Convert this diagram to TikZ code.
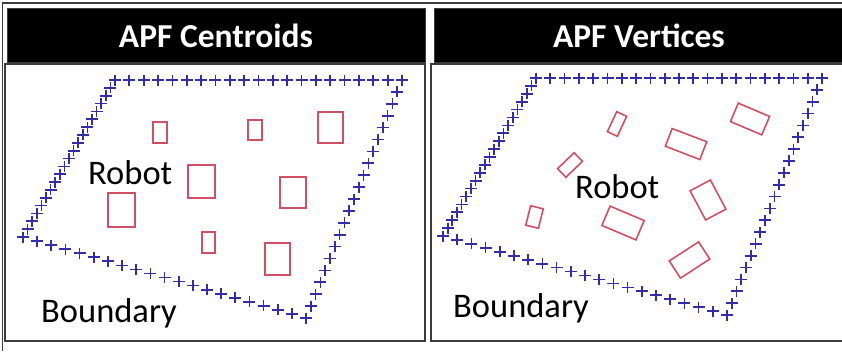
\documentclass[tikz,border=0pt]{standalone}
\usepackage{fontspec}
\setmainfont{Carlito}
\usetikzlibrary{calc}
\definecolor{bndblue}{RGB}{50,45,170}
\definecolor{obsred}{RGB}{210,80,100}
\definecolor{framegray}{RGB}{60,60,60}
\tikzset{
  frameline/.style={draw=framegray, line width=1.6pt},
  header/.style={fill=black, draw=framegray, line width=0.8pt},
  title/.style={text=white, font=\bfseries\fontsize{33.5}{33.5}\selectfont, anchor=base, inner sep=0pt},
  label/.style={text=black, font=\fontsize{34.5}{34.5}\selectfont, anchor=base west, inner sep=0pt},
  obst/.style={draw=obsred, line width=1.6pt},
  bnd/.style={draw=bndblue, line width=1.7pt}
}
\newcommand\plusrow[3]{%
  \foreach \i in {0,...,#3}{
    \draw[bnd] ($(#1)!\i/#3!(#2)$) +(-6,0) -- +(6,0) +(0,-5.5) -- +(0,5.5);
  }}
\newcommand\rotobst[5]{%
  \draw[obst, rotate around={-#5:(#1,#2)}] (#1-#3/2,#2-#4/2) rectangle (#1+#3/2,#2+#4/2);}
\begin{document}
\begin{tikzpicture}[x=1pt,y=-1pt]
\useasboundingbox (0,0) rectangle (842,351);
\fill[white] (0,0) rectangle (842,351);
% outer frame
\draw[frameline] (2.5,351) -- (2.5,3) -- (842,3);
% headers
\path[header] (7,8) rectangle (425,62);
\path[header] (434,8) rectangle (845,62);
\node[title] (t1) at (216,47) {APF Centroids};
\node[title] (t2) at (639,47) {APF Vertices};
% panels
\draw[frameline] (5,64) rectangle (425,341);
\draw[frameline] (845,64) -- (431,64) -- (431,341) -- (845,341);
% left boundary
\coordinate (LA) at (115,80);
\coordinate (LB) at (402,80);
\coordinate (LC) at (306,318);
\coordinate (LD) at (23,237);
\plusrow{LA}{LB}{20}
\plusrow{LB}{LC}{20}
\plusrow{LC}{LD}{20}
\plusrow{LD}{LA}{20}
% right boundary
\coordinate (RA) at (536,78);
\coordinate (RB) at (822,78);
\coordinate (RC) at (727,315);
\coordinate (RD) at (443,236);
\plusrow{RA}{RB}{20}
\plusrow{RB}{RC}{20}
\plusrow{RC}{RD}{20}
\plusrow{RD}{RA}{20}
% left obstacles
\draw[obst] (153,122) rectangle (167,143);
\draw[obst] (248,120) rectangle (262,140);
\draw[obst] (318,112) rectangle (343,143);
\draw[obst] (108,193) rectangle (135,227);
\draw[obst] (188,165) rectangle (215,198);
\draw[obst] (280,177) rectangle (306,208);
\draw[obst] (202,232) rectangle (215,253);
\draw[obst] (265,243) rectangle (290,275);
% right obstacles
\rotobst{617}{124}{11}{22}{25}
\rotobst{750}{119}{34}{20}{23}
\rotobst{686}{144}{37}{19}{21}
\rotobst{570}{165}{23}{12}{-44}
\rotobst{708}{200}{23}{33}{-28}
\rotobst{534.5}{217}{13}{20}{14}
\rotobst{623}{223}{37}{21}{23}
\rotobst{689.5}{260}{35}{20.5}{-33}
% labels
\node[label] (r1) at (88,184) {Robot};
\node[label] (b1) at (41,322) {Boundary};
\node[label] (r2) at (575,198) {Robot};
\node[label] (b2) at (453,317) {Boundary};
\end{tikzpicture}
\end{document}
